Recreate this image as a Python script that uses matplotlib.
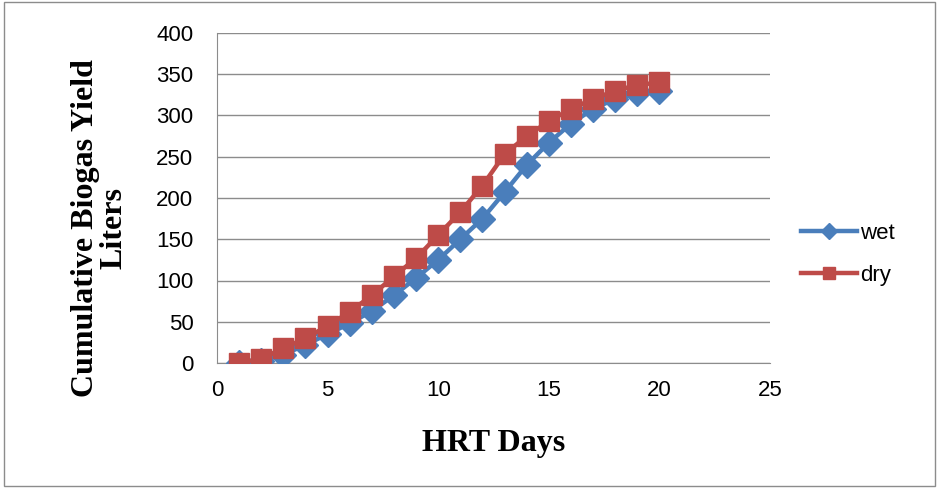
import matplotlib.pyplot as plt
import numpy as np

days = np.arange(1, 21)
wet = [0, 3, 10, 22, 35, 48, 63, 82, 103, 125, 150, 175, 207, 240, 267, 290, 308, 320, 327, 330]
dry = [0, 5, 18, 30, 45, 62, 82, 105, 127, 155, 183, 215, 253, 275, 293, 308, 320, 330, 337, 340]

fig = plt.figure(figsize=(9.39, 4.88), dpi=100)
ax = fig.add_axes([217/939, 1 - 363/488, (770-217)/939, (363-33)/488])

ax.plot(days, wet, color='#4a7ebb', lw=3.2, marker='D', ms=13.5, label='wet', zorder=3)
ax.plot(days, dry, color='#be4b48', lw=3.2, marker='s', ms=15, label='dry', zorder=4)

ax.set_xlim(0, 25)
ax.set_ylim(0, 400)
ax.set_xticks(range(0, 26, 5))
ax.set_yticks(range(0, 401, 50))
ax.yaxis.grid(True, color='#8c8c8c', lw=1)
ax.set_axisbelow(True)
for s in ['top', 'right']:
    ax.spines[s].set_visible(False)
for s in ['left', 'bottom']:
    ax.spines[s].set_color('#8c8c8c')
ax.tick_params(labelsize=16, length=0)
ax.tick_params(axis='y', pad=17)
ax.tick_params(axis='x', pad=12)
for lab in ax.get_xticklabels() + ax.get_yticklabels():
    lab.set_family('Liberation Sans')

ax.set_xlabel('HRT Days', family='Liberation Serif', fontsize=23, fontweight='bold')
ax.xaxis.set_label_coords(0.5, -0.2)
ax.set_ylabel('Cumulative Biogas Yield\nLiters', family='Liberation Serif', fontsize=23,
              fontweight='bold', linespacing=1.0)
ax.yaxis.set_label_coords(-0.16, 0.41)

leg = ax.legend(loc='center left', bbox_to_anchor=(1.02, 0.33), frameon=False,
                prop={'family': 'Liberation Sans', 'size': 16}, handlelength=2.5,
                labelspacing=0.95, handletextpad=0.15, markerscale=0.6)

border = plt.Rectangle((0.004, 0.004), 0.992, 0.992, transform=fig.transFigure,
                       fill=False, ec='#8c8c8c', lw=1)
fig.add_artist(border)

fig.savefig('out.png', dpi=100)
